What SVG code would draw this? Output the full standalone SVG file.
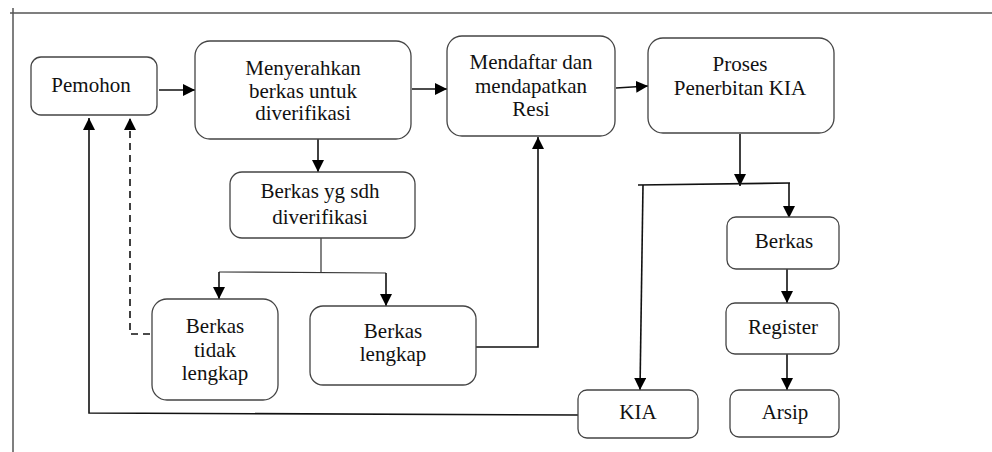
<svg xmlns="http://www.w3.org/2000/svg" width="992" height="452" viewBox="0 0 992 452">
<style>
.box{fill:#fff;stroke:#444;stroke-width:1.3}
.c{fill:none;stroke:#111;stroke-width:1.6}
.thin{fill:none;stroke:#333;stroke-width:1.2}
.frame{fill:none;stroke:#555;stroke-width:1.5}
</style>
<defs>
<marker id="ah" markerUnits="userSpaceOnUse" markerWidth="12" markerHeight="12" viewBox="0 0 12 12" refX="12" refY="6" orient="auto">
<path d="M0,0 L12,6 L0,12 Z" fill="#000"/>
</marker>
</defs>
<rect width="992" height="452" fill="#fff"/>
<g id="frame">
<path class="frame" d="M10,13 H992 M13,8 V452"/>
</g>
<g id="connectors">
<path class="c" d="M159,90 H195" marker-end="url(#ah)"/>
<path class="c" d="M412,89 H447" marker-end="url(#ah)"/>
<path class="c" d="M616,88 L648,86" marker-end="url(#ah)"/>
<path class="c" d="M318,139 V172" marker-end="url(#ah)"/>
<path class="thin" d="M321,238 V273 M219,272 L386,273"/>
<path class="c" d="M219,272 V299" marker-end="url(#ah)"/>
<path class="c" d="M386,273 V306" marker-end="url(#ah)"/>
<path class="c" d="M476,347 H538 V137" marker-end="url(#ah)"/>
<path class="c" d="M150,334 H130 V118" stroke-dasharray="7,5" marker-end="url(#ah)"/>
<path class="c" d="M578,415 L89,413 V118" marker-end="url(#ah)"/>
<path class="c" d="M740,134 V186" marker-end="url(#ah)"/>
<path class="c" d="M638,185 L790,183"/>
<path class="c" d="M643,185 L640,390" marker-end="url(#ah)"/>
<path class="c" d="M789,183 V218" marker-end="url(#ah)"/>
<path class="c" d="M787,269 V303" marker-end="url(#ah)"/>
<path class="c" d="M787,354 V390" marker-end="url(#ah)"/>
</g>
<g id="nodes" font-family="'Liberation Serif', serif" font-size="21" fill="#111" text-anchor="middle">
<g id="pemohon">
<rect class="box" x="31" y="57" width="126" height="58" rx="10"/>
<text x="91" y="92">Pemohon</text>
</g>
<g id="menyerahkan">
<rect class="box" x="195" y="41" width="216" height="98" rx="15"/>
<text x="303" y="75">Menyerahkan</text>
<text x="303" y="98">berkas untuk</text>
<text x="303" y="120">diverifikasi</text>
</g>
<g id="mendaftar">
<rect class="box" x="447" y="36" width="168" height="100" rx="15"/>
<text x="531" y="69">Mendaftar dan</text>
<text x="531" y="93">mendapatkan</text>
<text x="531" y="116">Resi</text>
</g>
<g id="proses">
<rect class="box" x="648" y="38" width="186" height="95" rx="15"/>
<text x="740" y="71">Proses</text>
<text x="740" y="95">Penerbitan KIA</text>
</g>
<g id="berkas-verifikasi">
<rect class="box" x="230" y="172" width="185" height="66" rx="12"/>
<text x="320" y="198">Berkas yg sdh</text>
<text x="320" y="224">diverifikasi</text>
</g>
<g id="berkas-tidak-lengkap">
<rect class="box" x="152" y="299" width="126" height="101" rx="15"/>
<text x="215" y="333">Berkas</text>
<text x="215" y="357">tidak</text>
<text x="215" y="380">lengkap</text>
</g>
<g id="berkas-lengkap">
<rect class="box" x="310" y="306" width="166" height="79" rx="13"/>
<text x="393" y="338">Berkas</text>
<text x="393" y="361">lengkap</text>
</g>
<g id="kia">
<rect class="box" x="578" y="390" width="120" height="48" rx="9"/>
<text x="638" y="419">KIA</text>
</g>
<g id="berkas">
<rect class="box" x="727" y="217" width="112" height="52" rx="9"/>
<text x="784" y="248">Berkas</text>
</g>
<g id="register">
<rect class="box" x="726" y="303" width="113" height="51" rx="9"/>
<text x="783" y="334">Register</text>
</g>
<g id="arsip">
<rect class="box" x="730" y="390" width="109" height="47" rx="9"/>
<text x="785" y="419">Arsip</text>
</g>
</g>
</svg>
